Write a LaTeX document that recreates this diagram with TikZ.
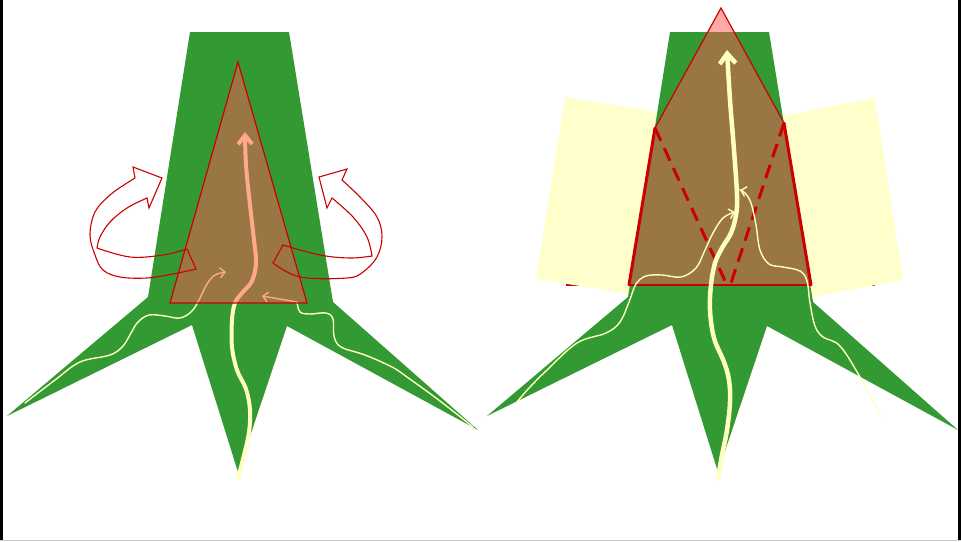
\documentclass[tikz,border=0pt]{standalone}
\usetikzlibrary{arrows.meta}
\definecolor{leafgreen}{HTML}{339933}
\definecolor{paleyellow}{HTML}{FFFFCC}
\definecolor{cream}{HTML}{FFFFC0}
\definecolor{darkred}{HTML}{CC0000}
\definecolor{rosefill}{RGB}{255,85,85}
\begin{document}
\begin{tikzpicture}[x=1pt,y=-1pt,
  shade/.style={fill=rosefill, fill opacity=0.5},
  outline/.style={draw=darkred, line width=1.2pt, line join=miter},
  ribbon/.style={draw=darkred, line width=1.1pt, line join=miter},
  thickside/.style={draw=darkred, line width=3pt, line cap=round},
  foldline/.style={draw=darkred, line width=3pt, dash pattern=on 14pt off 8pt},
  sapthick/.style={draw=cream, line width=4pt, line cap=round,
    -{Straight Barb[length=9pt,width=14pt]}},
  sapthin/.style={draw=cream, line width=1.4pt, line cap=round,
    -{Straight Barb[length=5pt,width=10pt]}},
  plantbody/.pic={
    \fill[leafgreen] (190,32) -- (289,32) -- (333,302) -- (478,430)
      -- (287,326) -- (238,472) -- (192,325) -- (7,416) -- (148,297) -- cycle;
  }]
\useasboundingbox (0,0) rectangle (961,541);
\fill[white] (0,0) rectangle (961,541);

% ---------- left panel ----------
\pic at (0,0) {plantbody};

% sap paths
\draw[sapthick] plot[smooth, tension=0.6] coordinates {(238,478) (244,455) (249,432)
  (250,410) (246,389) (237,370) (232,347) (232,320) (235,303) (242,293) (252,281)
  (256,263) (254,240) (250,205) (246,165) (245,132)};
\draw[sapthin] plot[smooth, tension=0.6] coordinates {(25,403) (55,380) (80,362)
  (110,355) (123,346) (131,333) (138,322) (149,315) (165,316) (180,318) (192,311)
  (200,298) (207,284) (215,275) (226,272)};
\draw[draw=cream, line width=1.4pt, line cap=round] plot[smooth, tension=0.6]
  coordinates {(473,427) (440,401) (407,377) (392,367) (365,355) (341,347) (334,336)
  (333,319) (326,313) (310,314) (300,312) (297,302)};
\coordinate (sideIn) at (297,302);
\coordinate (sideTip) at (262,296);
\draw[sapthin] (sideIn) -- (sideTip);

% tinted cone
\coordinate (coneTop) at (238,62);
\coordinate (coneL) at (170,303);
\coordinate (coneR) at (307,303);
\path[shade] (coneTop) -- (coneR) -- (coneL) -- cycle;
\draw[outline] (coneTop) -- (coneR) -- (coneL) -- cycle;

% turning ribbons
\draw[ribbon] (187,249) -- plot[smooth, tension=0.6] coordinates {(196,269) (173,274)
  (147,278) (120,277) (103,270) (95,255) (90,235) (95,212) (110,195) (127,183) (135,178)}
  -- (133,167) -- (162,178) -- (149,208)
  -- plot[smooth, tension=0.6] coordinates {(147,198) (127,208) (110,222) (100,237) (97,248)}
  -- plot[smooth, tension=0.6] coordinates {(97,248) (130,257) (163,255) (187,249)} -- cycle;
\draw[ribbon] (283,245) -- plot[smooth, tension=0.6] coordinates {(273,263) (300,277)
  (347,278) (363,272) (377,257) (382,237) (377,217) (360,197) (342,180)}
  -- (347,169) -- (319,177) -- (327,208)
  -- plot[smooth, tension=0.6] coordinates {(332,198) (353,217) (367,237) (372,256)}
  -- plot[smooth, tension=0.6] coordinates {(372,256) (350,258) (320,255) (283,245)} -- cycle;

% ---------- right panel ----------
\draw[darkred, line width=2pt] (566,285) -- (875,285);
\fill[paleyellow] (565,97) -- (700,119) -- (700,305) -- (536,279) -- cycle;
\fill[paleyellow] (875,98) -- (740,124) -- (740,310) -- (903,280) -- cycle;
\pic at (480,0) {plantbody};

\coordinate (capTop) at (721,8);
\coordinate (capL) at (655,128);
\coordinate (capR) at (784,123);
\coordinate (baseL) at (629,285);
\coordinate (baseR) at (811,285);
\path[shade] (capTop) -- (capR) -- (baseR) -- (baseL) -- (capL) -- cycle;
\draw[outline] (capL) -- (capTop) -- (capR);
\draw[outline] (baseL) -- (baseR);
\draw[thickside] (capL) -- (baseL);
\draw[thickside] (capR) -- (baseR);
\coordinate (foldL) at (726,283);
\coordinate (foldR) at (731,283);
\draw[foldline] (capL) -- (foldL);
\draw[foldline] (capR) -- (foldR);

\draw[sapthick, line width=4.5pt, -{Straight Barb[length=10pt,width=16pt]}]
  plot[smooth, tension=0.6] coordinates {(718,478) (722,455) (727,430) (730,402)
  (729,380) (724,362) (714,338) (710,310) (711,285) (715,263) (722,248) (731,233)
  (736,215) (737,195) (734,150) (730,100) (727,50)};
\draw[sapthin] plot[smooth, tension=0.6] coordinates {(516,403) (530,387) (547,370)
  (577,343) (606,333) (620,322) (629,302) (636,284) (646,276) (662,275) (681,277)
  (696,268) (705,250) (713,233) (723,218) (735,212)};
\draw[sapthin] plot[smooth, tension=0.6] coordinates {(882,418) (860,377) (840,346)
  (823,337) (815,326) (810,303) (807,281) (800,271) (783,267) (769,264) (760,250)
  (756,225) (751,203) (745,193) (740,190)};

% ---------- frame ----------
\draw[black, line width=3pt] (1.5,0) -- (1.5,541);
\draw[black, line width=3pt] (959.5,0) -- (959.5,541);
\draw[black!20, line width=1.2pt] (0,540.4) -- (961,540.4);
\end{tikzpicture}
\end{document}
